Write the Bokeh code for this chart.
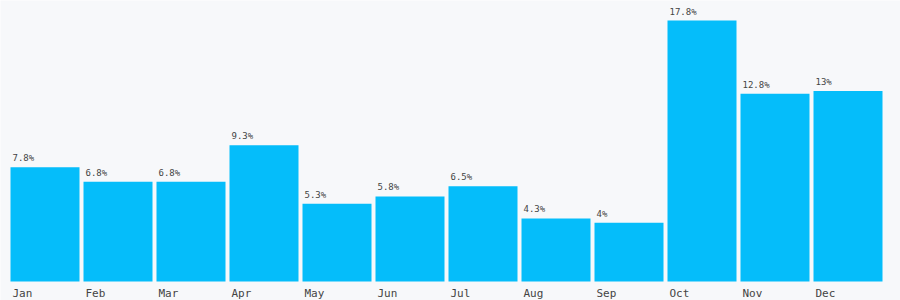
from bokeh.plotting import figure
from bokeh.models import ColumnDataSource, Range1d
from bokeh.core.properties import value
from bokeh.embed import file_html
from bokeh.resources import INLINE

months = ["Jan", "Feb", "Mar", "Apr", "May", "Jun", "Jul", "Aug", "Sep", "Oct", "Nov", "Dec"]
shares = [7.8, 6.8, 6.8, 9.3, 5.3, 5.8, 6.5, 4.3, 4.0, 17.8, 12.8, 13.0]

BG = "#f7f8fa"
BAR = "#05bdfa"
TXT = "#444444"

pitch = 73.0
bar_w = 69.0 / pitch
scale = 261.0 / 17.8  # px per unit

idx = list(range(len(months)))
src = ColumnDataSource(dict(
    left=[i for i in idx],
    right=[i + bar_w for i in idx],
    top=shares,
    bottom=[0] * len(idx),
    label=[f"{v:g}%" for v in shares],
    month=months,
))

p = figure(width=900, height=300, output_backend="svg", toolbar_location=None,
           x_range=Range1d(-10 / pitch, 890 / pitch),
           y_range=Range1d(-19 / scale, 281 / scale),
           min_border=0, min_border_left=0, min_border_right=0,
           min_border_top=0, min_border_bottom=0)
p.axis.visible = False
p.grid.visible = False
p.outline_line_color = None
p.background_fill_color = BG
p.border_fill_color = BG

p.quad(left="left", right="right", top="top", bottom="bottom", source=src,
       fill_color=BAR, line_color=None)

p.text(x="left", y="top", text="label", source=src, x_offset=2, y_offset=-4,
       text_font=value("DejaVu Sans Mono"), text_font_size="9px",
       text_color=TXT, text_baseline="bottom", text_align="left")

p.text(x="left", y="bottom", text="month", source=src, x_offset=2, y_offset=5,
       text_font=value("DejaVu Sans Mono"), text_font_size="11px",
       text_color=TXT, text_baseline="top", text_align="left")

open("out.html", "w").write(file_html(p, INLINE))
